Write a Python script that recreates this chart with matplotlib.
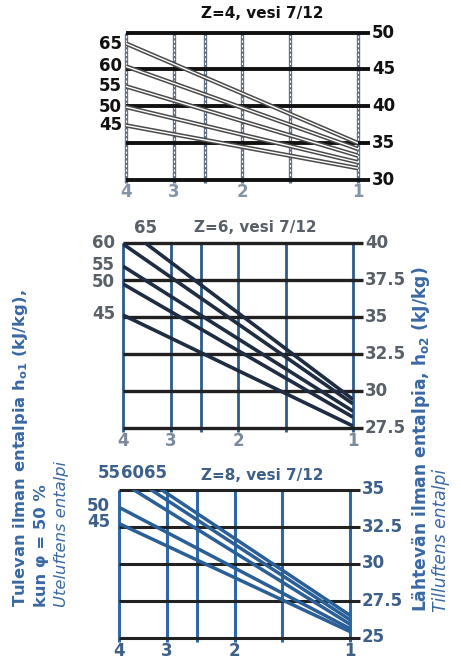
import numpy as np
import matplotlib
matplotlib.use("Agg")
import matplotlib.pyplot as plt

plt.rcParams['font.family'] = ['DejaVu Sans']

W, H = 461, 660

# x axis: number of rows (log scale, reversed)
x_ticks = [4, 3, 2, 1]
x_grid = [4, 3, 2.5, 2, 1.5, 1]
levels = [65, 60, 55, 50, 45]

# Z=4 panel
z4_yticks = [50, 45, 40, 35, 30]
z4_start = [48.5, 45.4, 42.7, 39.9, 37.4]
z4_end = [35.0, 34.2, 33.3, 32.4, 31.6]

# Z=6 panel
z6_yticks = [40, 37.5, 35, 32.5, 30, 27.5]
z6_start = [41.1, 39.9, 38.4, 37.2, 35.1]
z6_end = [29.4, 29.1, 28.6, 28.2, 27.6]

# Z=8 panel
z8_yticks = [35, 32.5, 30, 27.5, 25]
z8_start = [36.9, 36.4, 35.6, 33.8, 32.7]
z8_end = [26.5, 26.2, 25.9, 25.6, 25.4]

NUM_FS = 12
TITLE_FS = 11

fig = plt.figure(figsize=(W / 100, H / 100), dpi=100)
fig.patch.set_facecolor('white')


def px_axes(l, r, t, b):
    return fig.add_axes([l / W, 1 - b / H, (r - l) / W, (b - t) / H])


def fig_text(px, py, s, **kw):
    fig.text(px / W, 1 - py / H, s, **kw)


def panel(box, yticks, start, end, style):
    l, r, t, b = box
    ax = px_axes(l, r, t, b)
    ax.set_xscale('log')
    ax.set_xlim(4, 1)
    ax.set_ylim(yticks[-1], yticks[0])
    ax.axis('off')
    width = r - l
    # vertical grid lines (rows)
    for xv in x_grid:
        ax.plot([xv, xv], [yticks[-1] - style.get('vlow', 0), yticks[0]],
                color=style['vcol'], lw=style['vlw'], clip_on=False,
                zorder=2, solid_capstyle='butt')
        if style.get('vinner'):
            ax.plot([xv, xv], [yticks[-1], yticks[0]], color='white',
                    lw=style['vinner'], ls=(0, (2, 2)), clip_on=False,
                    zorder=2.1)
    # horizontal grid lines, extended out to the right-hand scale
    ext = 1 + style['ext'] / width
    yt = ax.get_yaxis_transform()
    for yv in yticks:
        ax.plot([0, ext], [yv, yv], color=style['hcol'], lw=style['hlw'],
                transform=yt, clip_on=False, zorder=3,
                solid_capstyle='butt')
        ax.text(ext + 2 / width, yv, '%g' % yv, transform=yt,
                ha='left', va='center', fontsize=NUM_FS,
                fontweight='bold', color=style['tcol'])
    # operating lines
    for s0, s1 in zip(start, end):
        ax.plot([4, 1], [s0, s1], color=style['lcol'], lw=style['llw'],
                zorder=4, solid_capstyle='butt')
        if style.get('linner'):
            ax.plot([4, 1], [s0, s1], color='white', lw=style['linner'],
                    zorder=4.1)
    # row numbers
    for xv in x_ticks:
        ax.text(xv, style['xlab_y'], str(xv),
                transform=ax.get_xaxis_transform(), ha='center',
                va='center', fontsize=NUM_FS, fontweight='bold',
                color=style['xcol'])
    return ax


top_style = dict(vcol='#5f7080', vlw=2.4, vinner=0.8, hcol='#111111',
                 hlw=2.8, ext=12, tcol='#111111',
                 lcol='#4a4a4a', llw=3.2, linner=1.0, xcol='#8294a6',
                 xlab_y=-0.08, vlow=0.4)
mid_style = dict(vcol='#2d5b8c', vlw=2.0, hcol='#202020', hlw=2.4,
                 ext=10, tcol='#5a6068', lcol='#1f2d42',
                 llw=2.6, xcol='#7a8a9a', xlab_y=-0.075, vlow=0.3)
bot_style = dict(vcol='#2f68a6', vlw=2.2, hcol='#222222', hlw=2.2,
                 ext=10, tcol='#3d5f88', lcol='#2b5f97',
                 llw=2.5, xcol='#3d5f88', xlab_y=-0.09, vlow=0.3)

ax1 = panel((126, 358, 32.5, 180), z4_yticks, z4_start, z4_end, top_style)
ax2 = panel((123, 353, 242.5, 427.5), z6_yticks, z6_start, z6_end, mid_style)
ax3 = panel((119, 350, 489.5, 637.5), z8_yticks, z8_start, z8_end, bot_style)

# curve labels on the left
for lev, s0 in zip(levels, z4_start):
    ax1.text(-4 / 232, s0, str(lev), transform=ax1.get_yaxis_transform(),
             ha='right', va='center', fontsize=NUM_FS, fontweight='bold',
             color='#111111')
for lev, s0 in zip(levels[1:], z6_start[1:]):
    ax2.text(-8 / 230, s0 + 0.1, str(lev),
             transform=ax2.get_yaxis_transform(), ha='right', va='center',
             fontsize=NUM_FS, fontweight='bold', color='#5a6068')
fig_text(145, 228, str(levels[0]), ha='center', va='center', fontsize=NUM_FS,
         fontweight='bold', color='#5a6068')
for lev, s0 in zip(levels[3:], z8_start[3:]):
    ax3.text(-9 / 231, s0 + 0.1, str(lev),
             transform=ax3.get_yaxis_transform(), ha='right', va='center',
             fontsize=NUM_FS, fontweight='bold', color='#3d5f88')
for lev, px in zip(levels[2::-1], [109, 132, 155]):
    fig_text(px, 473, str(lev), ha='center', va='center', fontsize=NUM_FS,
             fontweight='bold', color='#3d5f88')

# panel titles
fig_text(262, 14, 'Z=4, vesi 7/12', ha='center', va='center',
         fontsize=TITLE_FS, fontweight='bold', color='#111111')
fig_text(255, 228, 'Z=6, vesi 7/12', ha='center', va='center',
         fontsize=TITLE_FS, fontweight='bold', color='#5a6068')
fig_text(262, 475, 'Z=8, vesi 7/12', ha='center', va='center',
         fontsize=TITLE_FS, fontweight='bold', color='#3d5f88')

# axis titles
blue = '#3a68a3'
kw = dict(rotation=90, rotation_mode='anchor', ha='left', va='center',
          color=blue)
fig_text(20, 607, r'Tulevan ilman entalpia h$_\mathregular{o1}$ (kJ/kg),',
         fontweight='bold', fontsize=11.8, **kw)
fig_text(41, 607, 'kun φ = 50 %', fontweight='bold', fontsize=11.8, **kw)
fig_text(61, 607, 'Uteluftens entalpi', style='italic', fontsize=11.8, **kw)
fig_text(421, 612, r'Lähtevän ilman entalpia, h$_\mathregular{o2}$ (kJ/kg)',
         fontweight='bold', fontsize=12.3, **kw)
fig_text(441, 612, 'Tilluftens entalpi', style='italic', fontsize=12.3, **kw)

fig.savefig('out.png', dpi=100, facecolor='white')
